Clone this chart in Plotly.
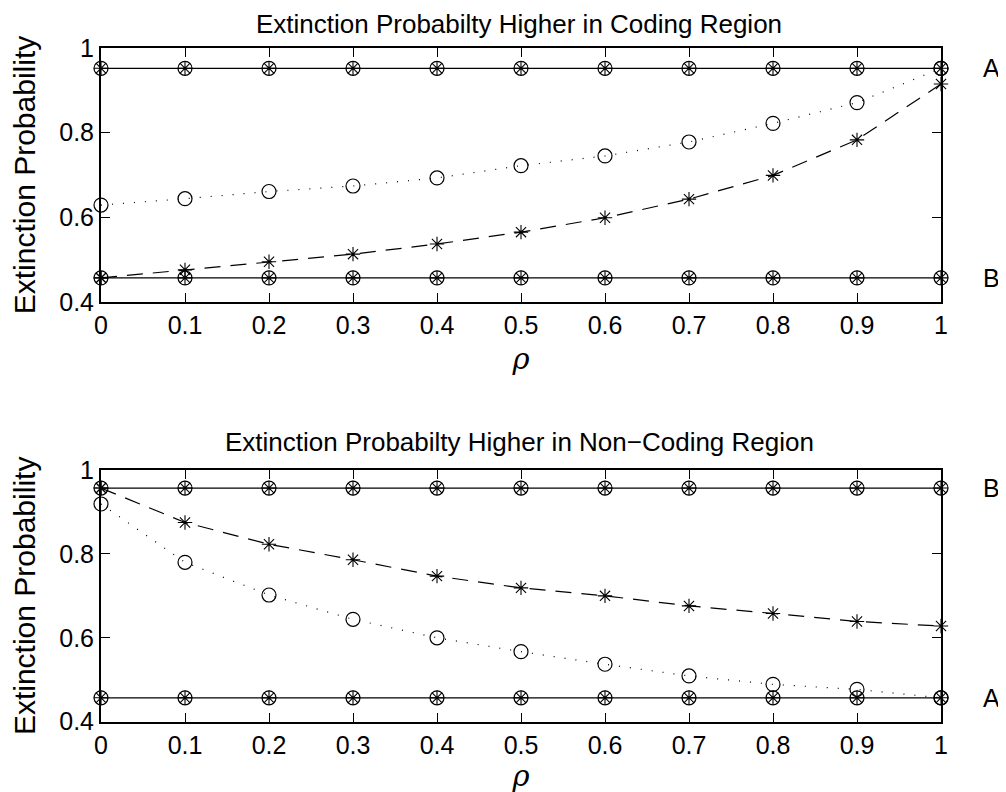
import plotly.graph_objects as go

# ---------------- data ----------------
rho = [0.0, 0.1, 0.2, 0.3, 0.4, 0.5, 0.6, 0.7, 0.8, 0.9, 1.0]
x_tick_vals = [0.0, 0.1, 0.2, 0.3, 0.4, 0.5, 0.6, 0.7, 0.8, 0.9, 1.0]
x_tick_text = ["0", "0.1", "0.2", "0.3", "0.4", "0.5", "0.6", "0.7", "0.8", "0.9", "1"]
y_tick_vals = [0.4, 0.6, 0.8, 1.0]
y_tick_text = ["0.4", "0.6", "0.8", "1"]

# top panel: Extinction probability higher in coding region
top_line_A = [0.952, 0.952, 0.952, 0.952, 0.952, 0.952, 0.952, 0.952, 0.952, 0.952, 0.952]
top_line_B = [0.457, 0.457, 0.457, 0.457, 0.457, 0.457, 0.457, 0.457, 0.457, 0.457, 0.457]
top_circles = [0.629, 0.644, 0.661, 0.674, 0.693, 0.722, 0.745, 0.778, 0.822, 0.871, 0.952]
top_stars = [0.457, 0.476, 0.495, 0.513, 0.537, 0.565, 0.599, 0.643, 0.699, 0.783, 0.915]

# bottom panel: Extinction probability higher in non-coding region
bot_line_B = [0.957, 0.957, 0.957, 0.957, 0.957, 0.957, 0.957, 0.957, 0.957, 0.957, 0.957]
bot_line_A = [0.457, 0.457, 0.457, 0.457, 0.457, 0.457, 0.457, 0.457, 0.457, 0.457, 0.457]
bot_circles = [0.919, 0.780, 0.702, 0.644, 0.600, 0.567, 0.537, 0.509, 0.489, 0.477, 0.457]
bot_stars = [0.957, 0.875, 0.823, 0.786, 0.747, 0.719, 0.700, 0.676, 0.658, 0.639, 0.628]

titles = ["Extinction Probabilty Higher in Coding Region",
          "Extinction Probabilty Higher in Non\u2212Coding Region"]
ylabel = "Extinction Probability"
xlabel = "<i>\u03c1</i>"

# ---------------- figure ----------------
W, H = 1006, 792
OFF = 8  # page body margin of the html wrapper
FONT = "Liberation Sans, Arial, sans-serif"
BLACK = "#000000"

def px(v):
    return (v - OFF) / W

def py(v):
    return 1 - (v - OFF) / H

fig = go.Figure()

def add_panel(xa, ya, lineTop, lineBot, circ, star):
    for yv in (lineTop, lineBot):
        fig.add_trace(go.Scatter(x=rho, y=yv, xaxis=xa, yaxis=ya, mode="lines+markers",
                                 line=dict(color=BLACK, width=1.3),
                                 marker=dict(symbol="circle-open", size=14, color=BLACK,
                                             line=dict(width=1.2, color=BLACK)),
                                 cliponaxis=False, showlegend=False))
        fig.add_trace(go.Scatter(x=rho, y=yv, xaxis=xa, yaxis=ya, mode="markers",
                                 marker=dict(symbol="asterisk-open", size=12, color=BLACK,
                                             line=dict(width=1.1, color=BLACK)),
                                 cliponaxis=False, showlegend=False))
    fig.add_trace(go.Scatter(x=rho, y=circ, xaxis=xa, yaxis=ya, mode="lines+markers",
                             line=dict(color=BLACK, width=1.2, dash="1px,10px"),
                             marker=dict(symbol="circle-open", size=14, color=BLACK,
                                         line=dict(width=1.2, color=BLACK)),
                             cliponaxis=False, showlegend=False))
    fig.add_trace(go.Scatter(x=rho, y=star, xaxis=xa, yaxis=ya, mode="lines+markers",
                             line=dict(color=BLACK, width=1.2, dash="16px,10px"),
                             marker=dict(symbol="asterisk-open", size=12, color=BLACK,
                                         line=dict(width=1.1, color=BLACK)),
                             cliponaxis=False, showlegend=False))

add_panel("x", "y", top_line_A, top_line_B, top_circles, top_stars)
add_panel("x2", "y2", bot_line_B, bot_line_A, bot_circles, bot_stars)

x_dom = [px(101), px(941)]
top_dom = [py(302), py(48)]
bot_dom = [py(721.7), py(470)]

def xaxis_cfg(anchor, standoff):
    return dict(domain=x_dom, anchor=anchor, range=[0, 1], tickmode="array",
                tickvals=x_tick_vals, ticktext=x_tick_text, ticks="inside", ticklen=9,
                tickwidth=1.2, tickcolor=BLACK, showline=True, linecolor=BLACK, linewidth=2,
                mirror="ticks", showgrid=False, zeroline=False, automargin=False,
                tickfont=dict(family=FONT, size=25, color=BLACK),
                title=dict(text=xlabel, standoff=standoff,
                           font=dict(family="DejaVu Serif, serif", size=29, color=BLACK)))

def yaxis_cfg(anchor, dom):
    return dict(domain=dom, anchor=anchor, range=[0.4, 1], tickmode="array",
                tickvals=y_tick_vals, ticktext=y_tick_text, ticks="inside", ticklen=9,
                tickwidth=1.2, tickcolor=BLACK, showline=True, linecolor=BLACK, linewidth=2,
                mirror="ticks", showgrid=False, zeroline=False, automargin=False,
                tickfont=dict(family=FONT, size=25, color=BLACK),
                title=dict(text=ylabel, standoff=16,
                           font=dict(family=FONT, size=30, color=BLACK)))

fig.update_layout(
    width=W, height=H,
    margin=dict(l=0, r=0, t=0, b=0, pad=0),
    paper_bgcolor="white", plot_bgcolor="white",
    xaxis=xaxis_cfg("y", 11), yaxis=yaxis_cfg("x", top_dom),
    xaxis2=xaxis_cfg("y2", 4), yaxis2=yaxis_cfg("x2", bot_dom),
)

annotations = [
    dict(text=titles[0], x=px(519), y=1.0, xref="paper", yref="paper", borderpad=0,
         showarrow=False, font=dict(family=FONT, size=26, color=BLACK), xanchor="center", yanchor="top"),
    dict(text=titles[1], x=px(519), y=py(442), xref="paper", yref="paper",
         showarrow=False, font=dict(family=FONT, size=26, color=BLACK), xanchor="center", yanchor="middle"),
    dict(text="A", x=px(991), y=top_line_A[-1], xref="paper", yref="y", showarrow=False,
         font=dict(family=FONT, size=25, color=BLACK), xanchor="center", yanchor="middle"),
    dict(text="B", x=px(991), y=top_line_B[-1], xref="paper", yref="y", showarrow=False,
         font=dict(family=FONT, size=25, color=BLACK), xanchor="center", yanchor="middle"),
    dict(text="B", x=px(991), y=bot_line_B[-1], xref="paper", yref="y2", showarrow=False,
         font=dict(family=FONT, size=25, color=BLACK), xanchor="center", yanchor="middle"),
    dict(text="A", x=px(991), y=bot_line_A[-1], xref="paper", yref="y2", showarrow=False,
         font=dict(family=FONT, size=25, color=BLACK), xanchor="center", yanchor="middle"),
]
fig.update_layout(annotations=annotations)

fig.write_html("out.html")
